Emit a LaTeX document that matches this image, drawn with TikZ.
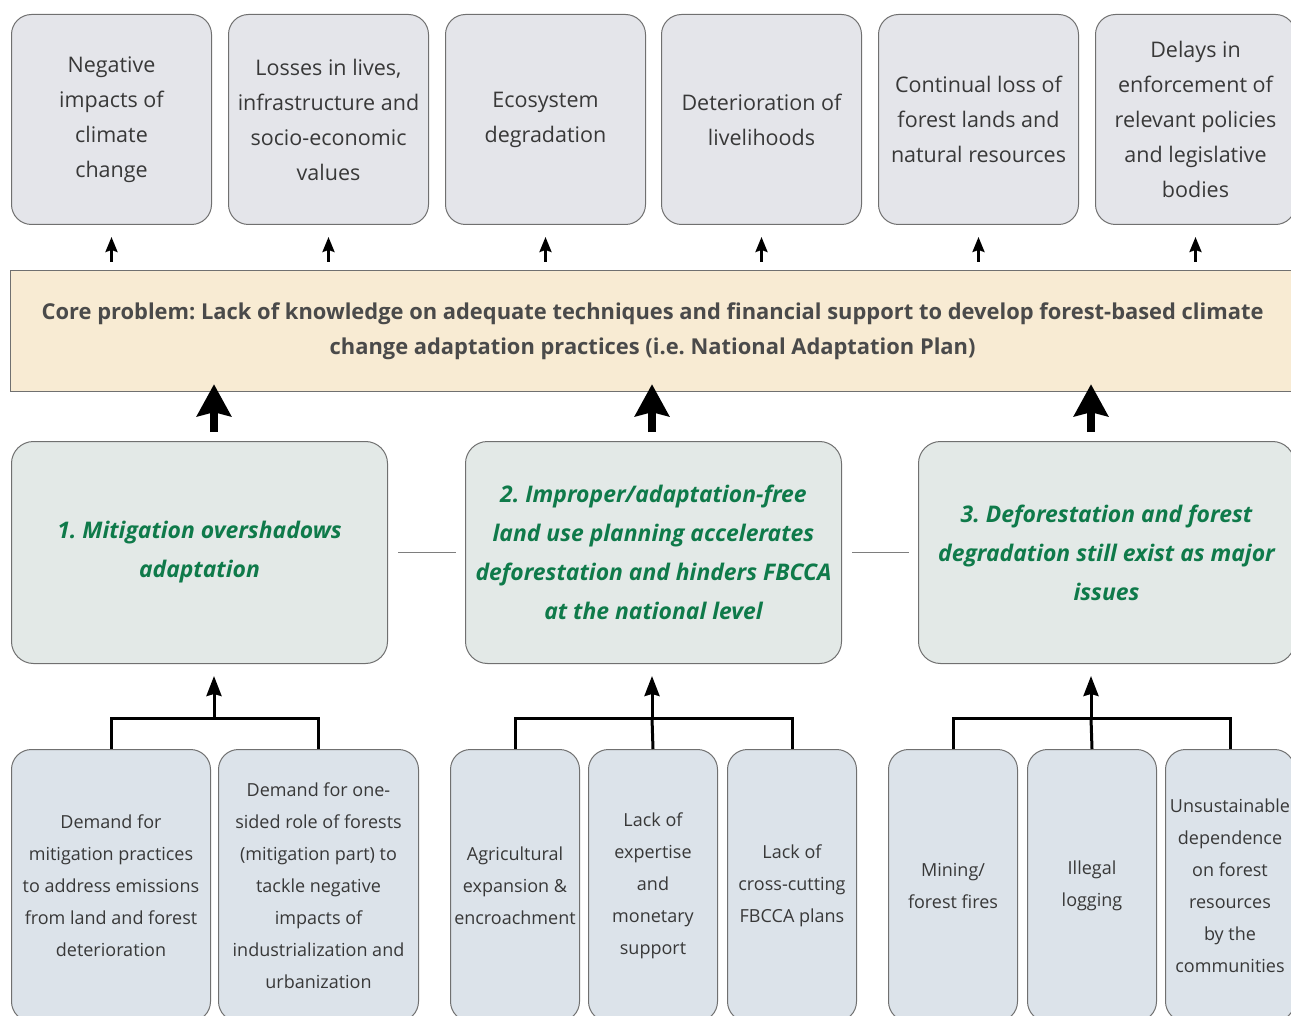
\documentclass[tikz,border=0pt]{standalone}
\usepackage{fontspec}
\setmainfont{Open Sans}
\usetikzlibrary{arrows.meta,calc}
\frenchspacing
\definecolor{topfill}{HTML}{E4E5EA}
\definecolor{corefill}{HTML}{F8EBD3}
\definecolor{midfill}{HTML}{E3E9E7}
\definecolor{botfill}{HTML}{DCE3EA}
\definecolor{boxline}{HTML}{707070}
\definecolor{txtgray}{HTML}{383838}
\definecolor{coretxt}{HTML}{4A4A4A}
\definecolor{greentxt}{HTML}{0F7A4A}
\tikzset{
  topbox/.style={draw=boxline, line width=1pt, fill=topfill, rounded corners=20pt, minimum width=200pt, minimum height=210pt, anchor=north west, align=center, text=txtgray, font=\fontsize{21.5}{35}\selectfont, inner sep=0pt},
  corebox/.style={draw=boxline, line width=1.2pt, fill=corefill, minimum width=1284pt, minimum height=121pt, anchor=north west, align=center, text=coretxt, font=\fontsize{21.9}{35}\selectfont\bfseries, inner sep=0pt},
  midbox/.style={draw=boxline, line width=1pt, fill=midfill, rounded corners=22pt, minimum width=376pt, minimum height=222pt, anchor=north west, align=center, text=greentxt, font=\fontsize{22.9}{39}\selectfont\bfseries\itshape, inner sep=0pt},
  botbox/.style={draw=boxline, line width=1pt, fill=botfill, rounded corners=20pt, minimum height=272pt, anchor=north west, align=center, text=txtgray, font=\fontsize{18}{32}\selectfont, inner sep=0pt},
  smallarrow/.style={line width=2.5pt, -{Stealth[length=15pt,width=12pt,inset=2pt]}, shorten <=8pt, shorten >=12pt},
  bigarrow/.style={line width=8pt, -{Stealth[length=32pt,width=34pt,inset=4pt]}, shorten <=9pt, shorten >=-8pt},
  treeline/.style={line width=3pt},
  treearrow/.style={line width=3pt, -{Stealth[length=20pt,width=15pt,inset=2pt]}, shorten >=12pt},
  linkline/.style={draw=boxline!90, line width=1pt, shorten <=10pt, shorten >=9pt}
}
\begin{document}
\begin{tikzpicture}[x=1pt,y=-1pt]
\useasboundingbox (0,0) rectangle (1291,1016);
\clip (0,0) rectangle (1291,1016);
\fill[white] (0,0) rectangle (1291,1016);
% top boxes
\node[topbox] (t1) at (11,14) {Negative\\impacts of\\climate\\change};
\node[topbox] (t2) at (228,14) {Losses in lives,\\infrastructure and\\socio-economic\\values};
\node[topbox] (t3) at (445,14) {Ecosystem\\degradation};
\node[topbox] (t4) at (661,14) {Deterioration of\\livelihoods};
\node[topbox] (t5) at (878,14) {Continual loss of\\forest lands and\\natural resources};
\node[topbox] (t6) at (1095,14) {Delays in\\enforcement of\\relevant policies\\and legislative\\bodies};
% core
\node[corebox] (core) at (10,270) {Core problem: Lack of knowledge on adequate techniques and financial support to develop forest-based climate\\change adaptation practices (i.e. National Adaptation Plan)};
\foreach \i in {1,...,6} \draw[smallarrow] (t\i.south |- core.north) -- (t\i.south);
% middle boxes
\node[midbox] (m1) at (11,441) {1. Mitigation overshadows\\adaptation};
\node[midbox] (m2) at (465,441) {2. Improper/adaptation-free\\land use planning accelerates\\deforestation and hinders FBCCA\\at the national level};
\node[midbox] (m3) at (918,441) {3. Deforestation and forest\\degradation still exist as major\\issues};
\draw[linkline] (m1.east) -- (m2.west);
\draw[linkline] (m2.east) -- (m3.west);
% bottom boxes
\node[botbox, minimum width=199pt] (b1) at (11,749) {Demand for\\mitigation practices\\to address emissions\\from land and forest\\deterioration};
\node[botbox, minimum width=200pt] (b2) at (218,749) {Demand for one-\\sided role of forests\\(mitigation part) to\\tackle negative\\impacts of\\industrialization and\\urbanization};
\node[botbox, minimum width=129pt] (b3) at (450,749) {Agricultural\\expansion \&\\encroachment};
\node[botbox, minimum width=129pt] (b4) at (588,749) {Lack of\\expertise\\and\\monetary\\support};
\node[botbox, minimum width=129pt] (b5) at (727,749) {Lack of\\cross-cutting\\FBCCA plans};
\node[botbox, minimum width=129pt] (b6) at (888,749) {Mining/\\forest fires};
\node[botbox, minimum width=129pt] (b7) at (1027,749) {Illegal\\logging};
\node[botbox, minimum width=129pt] (b8) at (1165,749) {Unsustainable\\dependence\\on forest\\resources\\by the\\communities};
% junctions
\coordinate (j1) at (214,718);
\coordinate (j2) at (652,718);
\coordinate (j3) at (1091,718);
\draw[treeline] (b1.north) |- (j1) -| (b2.north);
\draw[treeline] (b3.north) |- (j2) -| (b5.north);
\draw[treeline] (b4.north) -- (j2);
\draw[treeline] (b6.north) |- (j3) -| (b8.north);
\draw[treeline] (b7.north) -- (j3);
\foreach \j/\m in {j1/m1,j2/m2,j3/m3} {
  \draw[treearrow] (\j) -- (\j |- \m.south);
  \draw[bigarrow] (\j |- \m.north) -- (\j |- core.south);
}
\end{tikzpicture}
\end{document}
